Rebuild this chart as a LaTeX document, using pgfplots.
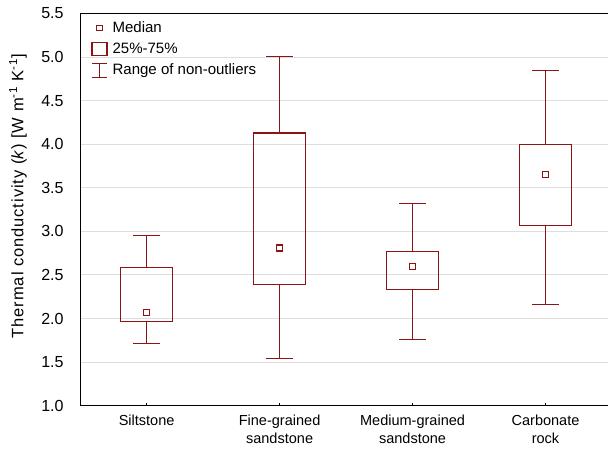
\documentclass[border=0pt]{standalone}
\usepackage{pgfplots}
\pgfplotsset{compat=1.18}
\usepgfplotslibrary{statistics}
\usetikzlibrary{backgrounds}
\usepackage{fontspec}
\setmainfont{Liberation Sans}
\definecolor{boxred}{RGB}{140,20,20}
\definecolor{gridgray}{RGB}{222,222,222}

\begin{document}
\begin{tikzpicture}
\begin{axis}[
  width=531bp, height=391.5bp, scale only axis,
  xmin=0.5, xmax=4.5, ymin=1, ymax=5.5,
  boxplot/draw direction=y,
  axis x line*=bottom, axis y line*=left,
  axis line style={black, line width=0.9bp, -},
  xtick={1,2,3,4},
  xticklabels={Siltstone,{Fine-grained\\sandstone},{Medium-grained\\sandstone},{Carbonate\\rock}},
  xticklabel style={align=center, font=\fontsize{14.5bp}{17.5bp}\selectfont, yshift=-6bp},
  ytick={1,1.5,...,5.5},
  yticklabel style={/pgf/number format/fixed, /pgf/number format/fixed zerofill, /pgf/number format/precision=1, /pgf/number format/assume math mode=true,
    font=\fontsize{16bp}{18bp}\selectfont, xshift=-13bp},
  ytick style={draw=none},
  xtick style={black, line width=0.8bp},
  tick align=inside, major tick length=2.5bp,
  ymajorgrids, grid style={gridgray, line width=1bp},
  ylabel={Thermal conductivity (\textit{k}) [W m\textsuperscript{-1} K\textsuperscript{-1}]},
  ylabel style={at={(axis description cs:-0.117,0.534)}, anchor=center, font=\fontsize{16.5bp}{19bp}\selectfont\addfontfeature{LetterSpace=5.5}},
  legend style={at={(0,1)}, anchor=north west, draw=none, fill=none, xshift=9bp, yshift=-4bp,
    font=\fontsize{15bp}{18bp}\selectfont, row sep=5bp, column sep=3bp, inner xsep=2bp},
  legend cell align=left,
  extra description/.code={
    \draw[black, line width=0.9bp] (rel axis cs:0,1) -- (rel axis cs:1,1);
  },
]
\addlegendimage{legend image code/.code={\draw[boxred, line width=1.2bp] (4.5bp,-2.5bp) rectangle (10.5bp,2.5bp);}}
\addlegendentry{Median}
\addlegendimage{legend image code/.code={\draw[boxred, line width=1.2bp] (0bp,-6.5bp) rectangle (15bp,6.5bp);}}
\addlegendentry{25\%-75\%}
\addlegendimage{legend image code/.code={\draw[boxred, line width=1.2bp] (0bp,-7bp) -- (15bp,-7bp) (7.5bp,-7bp) -- (7.5bp,7bp) (0bp,7bp) -- (15bp,7bp);}}
\addlegendentry{Range of non-outliers}

\addplot[forget plot, boxred, line width=1.2bp, boxplot/draw/median/.code={},
  boxplot prepared={draw position=1, lower whisker=1.71, lower quartile=1.965, median=2.07, upper quartile=2.586, upper whisker=2.95, box extend=0.39, whisker extend=0.2}] coordinates {};
\addplot[forget plot, boxred, line width=1.2bp, boxplot/draw/median/.code={},
  boxplot prepared={draw position=2, lower whisker=1.54, lower quartile=2.39, median=2.81, upper quartile=4.13, upper whisker=5.01, box extend=0.39, whisker extend=0.2}] coordinates {};
\addplot[forget plot, boxred, line width=1.2bp, boxplot/draw/median/.code={},
  boxplot prepared={draw position=3, lower whisker=1.76, lower quartile=2.337, median=2.60, upper quartile=2.77, upper whisker=3.32, box extend=0.39, whisker extend=0.2}] coordinates {};
\addplot[forget plot, boxred, line width=1.2bp, boxplot/draw/median/.code={},
  boxplot prepared={draw position=4, lower whisker=2.16, lower quartile=3.07, median=3.65, upper quartile=4.00, upper whisker=4.85, box extend=0.39, whisker extend=0.2}] coordinates {};
\addplot[forget plot, only marks, mark=square, mark size=3bp, boxred, mark options={line width=1.2bp, fill=white}]
  coordinates {(1,2.07) (2,2.81) (3,2.60) (4,3.65)};
\end{axis}
\begin{scope}[on background layer]
\fill[white] ([xshift=-82bp,yshift=-47bp]current axis.south west) rectangle ([xshift=3bp,yshift=16bp]current axis.north east);
\end{scope}
\pgfresetboundingbox
\path[use as bounding box] ([xshift=-80bp,yshift=-45bp]current axis.south west) rectangle ([xshift=-4bp,yshift=13.5bp]current axis.north east);
\end{tikzpicture}
\end{document}
